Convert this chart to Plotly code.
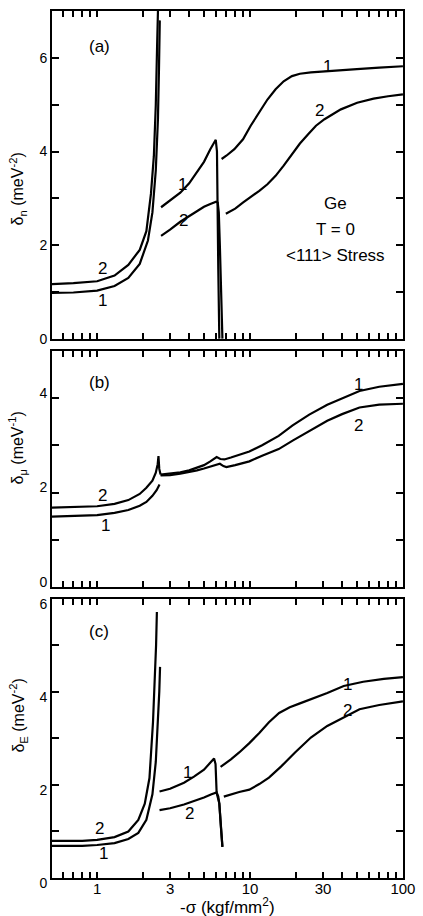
import numpy as np
import plotly.graph_objects as go

# ---------------- data ----------------
# Panel (a): delta_n
a1_left_x = [0.5, 0.7, 1.0, 1.3, 1.6, 1.9, 2.15, 2.3, 2.42, 2.5, 2.54, 2.57]
a1_left_y = [0.98, 0.99, 1.03, 1.13, 1.3, 1.6, 2.1, 2.7, 3.6, 4.7, 5.8, 6.8]
a2_left_x = [0.5, 0.7, 1.0, 1.3, 1.6, 1.9, 2.1, 2.25, 2.35, 2.42, 2.47, 2.5]
a2_left_y = [1.17, 1.19, 1.23, 1.35, 1.58, 1.9, 2.3, 3.1, 3.9, 5.0, 6.3, 7.0]
a1_mid_x = [2.62, 3.0, 3.5, 4.0, 4.5, 5.0, 5.5, 5.8, 5.97, 6.08, 6.12, 6.2, 6.3]
a1_mid_y = [2.81, 2.95, 3.12, 3.32, 3.55, 3.78, 4.05, 4.2, 4.25, 4.0, 2.9, 1.5, 0.0]
a2_mid_x = [2.62, 3.0, 3.5, 4.0, 4.5, 5.0, 5.5, 6.0, 6.15, 6.25, 6.35, 6.5, 6.6]
a2_mid_y = [2.2, 2.33, 2.5, 2.62, 2.73, 2.82, 2.88, 2.93, 2.91, 2.7, 2.0, 0.8, 0.0]
a1_right_x = [6.52, 7.0, 7.9, 9.0, 10.1, 11.5, 13.0, 14.7, 16.6, 18.8, 21.2, 25, 35, 50, 70, 100]
a1_right_y = [3.84, 3.91, 4.05, 4.26, 4.55, 4.83, 5.11, 5.33, 5.5, 5.61, 5.66, 5.69, 5.73, 5.76, 5.79, 5.82]
a2_right_x = [6.95, 8.0, 8.98, 10.2, 11.5, 13.0, 14.7, 16.6, 18.8, 21.2, 24, 27, 30.7, 39.3, 50.2, 64.3, 80, 100]
a2_right_y = [2.67, 2.78, 2.91, 3.03, 3.16, 3.3, 3.48, 3.7, 3.94, 4.17, 4.37, 4.55, 4.69, 4.9, 5.04, 5.13, 5.18, 5.22]

# Panel (b): delta_mu
b1_left_x = [0.5, 0.8, 1.0, 1.3, 1.6, 1.9, 2.1, 2.3, 2.45, 2.56]
b1_left_y = [1.49, 1.5, 1.52, 1.57, 1.63, 1.72, 1.8, 1.93, 2.05, 2.17]
b2_left_x = [0.5, 0.8, 1.0, 1.3, 1.6, 1.9, 2.1, 2.3, 2.42, 2.49, 2.52, 2.55, 2.6]
b2_left_y = [1.68, 1.69, 1.71, 1.76, 1.84, 1.97, 2.1, 2.25, 2.42, 2.6, 2.77, 2.5, 2.38]
b1_right_x = [2.6, 3.0, 3.5, 4.0, 4.5, 5.0, 5.5, 6.05, 6.4, 6.8, 7.5, 8.5, 9.9, 12, 15.4, 19, 24.4, 32, 40, 52, 70, 100]
b1_right_y = [2.38, 2.4, 2.43, 2.47, 2.52, 2.58, 2.66, 2.75, 2.71, 2.7, 2.74, 2.8, 2.87, 3.0, 3.2, 3.42, 3.65, 3.86, 4.0, 4.15, 4.24, 4.3]
b2_right_x = [2.6, 3.0, 3.5, 4.0, 4.5, 5.0, 5.5, 6.0, 6.35, 6.7, 7.0, 8.0, 9.9, 12, 15.4, 19, 24.4, 32, 40, 52, 70, 100]
b2_right_y = [2.36, 2.37, 2.4, 2.43, 2.47, 2.51, 2.55, 2.58, 2.61, 2.56, 2.54, 2.58, 2.66, 2.78, 2.92, 3.1, 3.3, 3.52, 3.66, 3.8, 3.86, 3.88]

# Panel (c): delta_E
c1_left_x = [0.5, 0.8, 1.0, 1.3, 1.6, 1.86, 2.1, 2.3, 2.42, 2.5, 2.55, 2.58]
c1_left_y = [0.69, 0.69, 0.71, 0.75, 0.84, 0.97, 1.25, 1.8, 2.5, 3.3, 4.0, 4.54]
c2_left_x = [0.5, 0.8, 1.0, 1.3, 1.6, 1.86, 2.05, 2.2, 2.32, 2.39, 2.43, 2.46]
c2_left_y = [0.8, 0.8, 0.82, 0.88, 1.0, 1.25, 1.6, 2.15, 3.35, 4.3, 5.0, 5.72]
c1_mid_x = [2.56, 3.0, 3.7, 4.3, 5.0, 5.5, 5.82, 5.95, 6.05, 6.3, 6.45, 6.6]
c1_mid_y = [1.86, 1.92, 2.05, 2.18, 2.33, 2.48, 2.57, 2.45, 1.83, 1.6, 1.1, 0.67]
c2_mid_x = [2.56, 3.0, 3.7, 4.3, 5.0, 5.6, 6.05, 6.2, 6.3, 6.45, 6.6]
c2_mid_y = [1.46, 1.5, 1.58, 1.65, 1.73, 1.8, 1.84, 1.75, 1.6, 1.1, 0.67]
c1_right_x = [6.42, 7.5, 8.5, 9.9, 11.5, 13.3, 15.5, 18.2, 21, 25, 32, 41, 55, 75, 100]
c1_right_y = [2.39, 2.55, 2.7, 2.9, 3.12, 3.35, 3.55, 3.67, 3.75, 3.84, 3.98, 4.13, 4.22, 4.28, 4.32]
c2_right_x = [6.74, 7.5, 8.5, 9.9, 11.5, 13.3, 16, 19.7, 25, 32, 41, 52, 70, 100]
c2_right_y = [1.75, 1.8, 1.85, 1.9, 2.02, 2.16, 2.4, 2.7, 3.02, 3.27, 3.45, 3.63, 3.72, 3.8]

# axis ticks
x_tick_vals = [1, 3, 10, 30, 100]
x_tick_text = ["1", "3", "10", "30", "100"]
x_decade_vals = [1, 10, 100]
x_minor_vals = [0.6, 0.7, 0.8, 0.9, 2, 4, 5, 6, 7, 8, 9, 20, 40, 50, 60, 70, 80, 90]
y_tick_vals = [0, 2, 4, 6]

# curve labels: (panel, x, y, text)
curve_labels = [
    (1, 1.08, 1.5, "2"), (1, 1.08, 0.82, "1"),
    (1, 3.61, 3.3, "1"), (1, 3.7, 2.52, "2"),
    (1, 32.2, 5.82, "1"), (1, 28.5, 4.87, "2"),
    (2, 1.08, 1.94, "2"), (2, 1.13, 1.31, "1"),
    (2, 51.5, 4.28, "1"), (2, 51.5, 3.41, "2"),
    (3, 1.03, 1.07, "2"), (3, 1.1, 0.53, "1"),
    (3, 3.89, 2.26, "1"), (3, 4.05, 1.38, "2"),
    (3, 43.3, 4.17, "1"), (3, 43.3, 3.6, "2"),
]
panel_tags = [(1, 1.03, 6.25, "(a)"), (2, 1.03, 4.32, "(b)"), (3, 1.03, 5.3, "(c)")]
info_lines = [(36.5, 2.88, "Ge"), (36.5, 2.34, "T = 0"), (36.5, 1.79, "&lt;111&gt; Stress")]
y_titles = ["δ<sub>n</sub> (meV<sup>-2</sup>)", "δ<sub>μ</sub> (meV<sup>-1</sup>)", "δ<sub>E</sub> (meV<sup>-2</sup>)"]
y_ranges = [[0, 7], [0, 5], [0, 6]]

# ---------------- figure ----------------
FONT = "Liberation Sans, Arial, sans-serif"
fig = go.Figure()

segments = [
    (1, a1_left_x, a1_left_y), (1, a2_left_x, a2_left_y),
    (1, a1_mid_x, a1_mid_y), (1, a2_mid_x, a2_mid_y),
    (1, a1_right_x, a1_right_y), (1, a2_right_x, a2_right_y),
    (2, b1_left_x, b1_left_y), (2, b2_left_x, b2_left_y),
    (2, b1_right_x, b1_right_y), (2, b2_right_x, b2_right_y),
    (3, c1_left_x, c1_left_y), (3, c2_left_x, c2_left_y),
    (3, c1_mid_x, c1_mid_y), (3, c2_mid_x, c2_mid_y),
    (3, c1_right_x, c1_right_y), (3, c2_right_x, c2_right_y),
]
for p, xs, ys in segments:
    sfx = "" if p == 1 else str(p)
    fig.add_trace(go.Scatter(x=xs, y=ys, mode="lines",
                             line=dict(color="black", width=2.2),
                             xaxis="x" + sfx, yaxis="y" + sfx,
                             showlegend=False, hoverinfo="skip"))

# layout geometry
top_px, bottom_px = 8, 878
H = 916
L, R = 52, 13
plot_h = bottom_px - top_px
def py2paper(py):
    return (bottom_px - py) / plot_h

domains = [
    [py2paper(337), 1.0],
    [py2paper(586), py2paper(349)],
    [0.0, py2paper(598)],
]
label_shift = [0, -5, 5]

xrange_log = [np.log10(0.507), 2.0005]
axis_common = dict(type="log", range=xrange_log, showgrid=False, zeroline=False,
                   showline=True, linecolor="black", linewidth=2, mirror="ticks",
                   ticks="inside", ticklen=6, tickwidth=1.5, tickcolor="black",
                   tickmode="array", tickvals=x_tick_vals, ticktext=x_tick_text,
                   ticklabeloverflow="allow", ticklabelstandoff=-4,
                   minor=dict(tickmode="array", tickvals=x_minor_vals, ticks="inside",
                              ticklen=6, tickwidth=1.5, tickcolor="black"),
                   tickfont=dict(family=FONT, size=15, color="black"))

layout = dict(width=423, height=H, margin=dict(l=L, r=R, t=top_px, b=H - bottom_px),
              paper_bgcolor="white", plot_bgcolor="white", showlegend=False,
              font=dict(family=FONT, color="black"))
for i in range(3):
    sfx = "" if i == 0 else str(i + 1)
    xa = dict(axis_common)
    xa["domain"] = [0, 1]
    xa["anchor"] = "y" + sfx
    if i < 2:
        xa["showticklabels"] = False
    layout["xaxis" + sfx] = xa
    # overlay axis carrying the longer decade ticks
    layout["xaxis" + str(i + 4)] = dict(type="log", range=xrange_log, overlaying="x" + sfx,
                                        anchor="y" + sfx, domain=[0, 1], side="bottom",
                                        showgrid=False, zeroline=False, showline=True,
                                        linecolor="black", linewidth=2, mirror="ticks",
                                        ticks="inside", ticklen=12, tickwidth=1.5,
                                        tickcolor="black", tickmode="array",
                                        tickvals=x_decade_vals, showticklabels=False)
    ya = dict(range=y_ranges[i], domain=domains[i], anchor="x" + sfx,
              showgrid=False, zeroline=False, showline=True, linecolor="black",
              linewidth=2, mirror="ticks", ticks="inside", ticklen=7, tickwidth=1.5,
              tickcolor="black", tickmode="array",
              tickvals=[v for v in y_tick_vals if v <= y_ranges[i][1]],
              ticklabelshift=label_shift[i],
              minor=dict(dtick=1, ticks="inside", ticklen=7, tickwidth=1.5, tickcolor="black"),
              tickfont=dict(family=FONT, size=14, color="black"))
    layout["yaxis" + sfx] = ya
fig.update_layout(**layout)

annotations = []
for p, x, y, t in curve_labels + panel_tags:
    sfx = "" if p == 1 else str(p)
    annotations.append(dict(x=np.log10(x), y=y, xref="x" + sfx, yref="y" + sfx, text=t,
                            showarrow=False, font=dict(family=FONT, size=17, color="black")))
for x, y, t in info_lines:
    annotations.append(dict(x=np.log10(x), y=y, xref="x", yref="y", text=t, showarrow=False,
                            font=dict(family=FONT, size=17, color="black")))
title_centers = [187, 447, 715]
for t, c in zip(y_titles, title_centers):
    annotations.append(dict(x=0, y=py2paper(c), xref="paper", yref="paper", xshift=-34,
                            xanchor="center", yanchor="middle",
                            text=t, textangle=-90, showarrow=False,
                            font=dict(family=FONT, size=16, color="black")))
annotations.append(dict(x=0.5, y=py2paper(906), xref="paper", yref="paper",
                        text="-σ (kgf/mm<sup>2</sup>)", showarrow=False,
                        xanchor="center", yanchor="middle",
                        font=dict(family=FONT, size=17, color="black")))
fig.update_layout(annotations=annotations)

fig.write_html("out.html")
